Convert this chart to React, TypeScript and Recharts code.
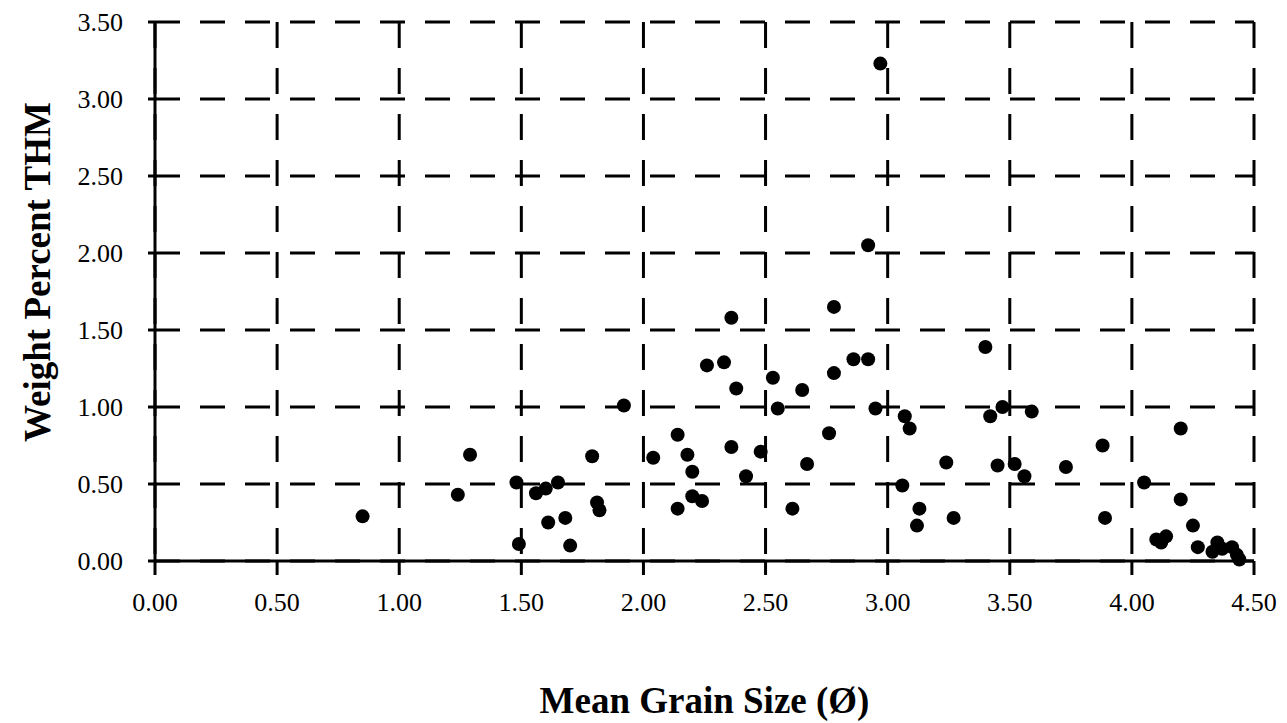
import React from 'react';
import { ScatterChart, Scatter, XAxis, YAxis, CartesianGrid, Label } from 'recharts';

// Mean grain size (phi) and weight percent THM
const grainSize = [
  0.85, 1.24, 1.29, 1.48, 1.49, 1.56, 1.6, 1.65, 1.61, 1.68, 1.7, 1.79, 1.81, 1.82,
  1.92, 2.04, 2.14, 2.18, 2.2, 2.2, 2.24, 2.14, 2.26, 2.33, 2.36, 2.38, 2.36, 2.42,
  2.48, 2.53, 2.55, 2.61, 2.65, 2.67, 2.76, 2.78, 2.78, 2.86, 2.92, 2.92, 2.97, 2.95,
  3.07, 3.09, 3.06, 3.13, 3.12, 3.24, 3.27, 3.4, 3.42, 3.47, 3.59, 3.45, 3.52, 3.56,
  3.73, 3.88, 3.89, 4.05, 4.2, 4.2, 4.25, 4.1, 4.14, 4.12, 4.27, 4.35, 4.33, 4.37,
  4.41, 4.43, 4.44,
];
const weightPercent = [
  0.29, 0.43, 0.69, 0.51, 0.11, 0.44, 0.47, 0.51, 0.25, 0.28, 0.1, 0.68, 0.38, 0.33,
  1.01, 0.67, 0.82, 0.69, 0.58, 0.42, 0.39, 0.34, 1.27, 1.29, 1.58, 1.12, 0.74, 0.55,
  0.71, 1.19, 0.99, 0.34, 1.11, 0.63, 0.83, 1.22, 1.65, 1.31, 1.31, 2.05, 3.23, 0.99,
  0.94, 0.86, 0.49, 0.34, 0.23, 0.64, 0.28, 1.39, 0.94, 1.0, 0.97, 0.62, 0.63, 0.55,
  0.61, 0.75, 0.28, 0.51, 0.86, 0.4, 0.23, 0.14, 0.16, 0.12, 0.09, 0.12, 0.06, 0.08,
  0.09, 0.04, 0.01,
];
const xTicks = [0, 0.5, 1, 1.5, 2, 2.5, 3, 3.5, 4, 4.5];
const yTicks = [0, 0.5, 1, 1.5, 2, 2.5, 3, 3.5];

const points = grainSize.map((x, i) => ({ x, y: weightPercent[i] }));

const serif = '"Liberation Serif", "Times New Roman", serif';
const tickStyle = { fill: '#000', fontSize: 26, fontFamily: serif };

const Dot = (props: any) => <circle cx={props.cx} cy={props.cy} r={7} fill="#000" />;

export default function App() {
  return (
    <div style={{ position: 'absolute', left: 0, top: 0, background: '#fff' }}>
      <ScatterChart width={1287} height={723} margin={{ top: 22, right: 33, left: 0, bottom: 0 }}>
        <CartesianGrid
          horizontal
          vertical={false}
          stroke="#000"
          strokeWidth={3}
          strokeDasharray="25 20"
        />
        <CartesianGrid
          horizontal={false}
          vertical
          stroke="#000"
          strokeWidth={3}
          strokeDasharray="26 20"
        />
        <XAxis
          type="number"
          dataKey="x"
          domain={[0, 4.5]}
          ticks={xTicks}
          tickFormatter={(v: number) => v.toFixed(2)}
          height={162}
          tickSize={14}
          tickMargin={18}
          axisLine={{ stroke: '#000', strokeWidth: 3 }}
          tickLine={{ stroke: '#000', strokeWidth: 3 }}
          tick={tickStyle}
          interval={0}
        >
          <Label
            content={({ viewBox }: any) => (
              <text
                x={viewBox.x + viewBox.width / 2}
                y={713}
                textAnchor="middle"
                fontFamily={serif}
                fontWeight="bold"
                fontSize={37}
                fill="#000"
              >
                Mean Grain Size (Ø)
              </text>
            )}
          />
        </XAxis>
        <YAxis
          type="number"
          dataKey="y"
          domain={[0, 3.5]}
          ticks={yTicks}
          tickFormatter={(v: number) => v.toFixed(2)}
          width={155}
          tickSize={7}
          tickMargin={25}
          axisLine={{ stroke: '#000', strokeWidth: 3 }}
          tickLine={{ stroke: '#000', strokeWidth: 3 }}
          tick={tickStyle}
          interval={0}
        >
          <Label
            content={() => (
              <text
                x={50}
                y={272}
                transform="rotate(-90 50 272)"
                textAnchor="middle"
                fontFamily={serif}
                fontWeight="bold"
                fontSize={37}
                fill="#000"
              >
                Weight Percent THM
              </text>
            )}
          />
        </YAxis>
        <Scatter data={points} shape={Dot} isAnimationActive={false} />
      </ScatterChart>
    </div>
  );
}
